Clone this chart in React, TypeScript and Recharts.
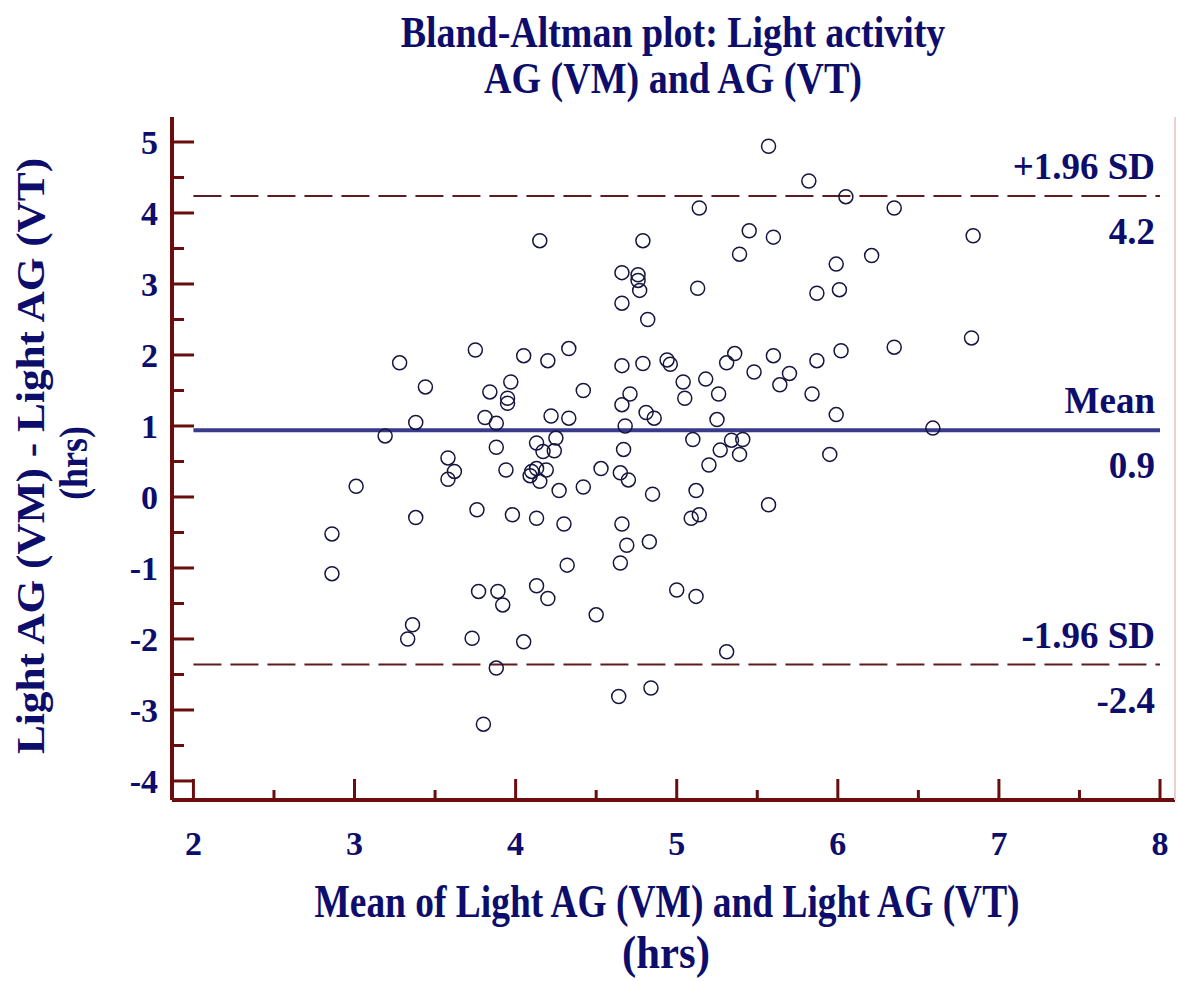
import React from 'react';
import { Customized, ReferenceLine, Scatter, ScatterChart, XAxis, YAxis } from 'recharts';

// mean of the two methods (hrs)
const meanHrs = [
  2.86, 2.86, 3.01, 3.19, 3.28, 3.33, 3.36, 3.38, 3.38, 3.44, 3.58, 3.62, 3.58, 3.73, 3.75, 3.76,
  3.77, 3.8, 3.81, 3.84, 3.88, 3.88, 3.88, 3.89, 3.92, 3.94, 3.95, 3.95, 3.97, 3.98, 4.05, 4.05,
  4.09, 4.1, 4.13, 4.13, 4.13, 4.13, 4.15, 4.15, 4.17, 4.19, 4.2, 4.2, 4.22, 4.24, 4.25, 4.27,
  4.3, 4.32, 4.33, 4.33, 4.42, 4.42, 4.5, 4.53, 4.64, 4.65, 4.65, 4.66, 4.66, 4.66, 4.66, 4.66,
  4.67, 4.68, 4.69, 4.7, 4.71, 4.76, 4.76, 4.77, 4.79, 4.79, 4.81, 4.82, 4.83, 4.84, 4.85, 4.86,
  4.94, 4.96, 5.0, 5.04, 5.05, 5.09, 5.1, 5.12, 5.12, 5.13, 5.14, 5.14, 5.18, 5.2, 5.25, 5.26,
  5.27, 5.31, 5.31, 5.34, 5.36, 5.39, 5.39, 5.41, 5.45, 5.48, 5.57, 5.57, 5.6, 5.6, 5.64, 5.7,
  5.82, 5.84, 5.87, 5.87, 5.95, 5.99, 5.99, 6.01, 6.02, 6.05, 6.21, 6.35, 6.35, 6.59, 6.83, 6.84,
];

// difference VM - VT (hrs)
const diffHrs = [
  -0.52, -1.08, 0.15, 0.86, 1.89, -2.0, -1.8, 1.05, -0.29, 1.55, 0.55, 0.36, 0.25, -1.99, 2.07, -0.18,
  -1.33, -3.2, 1.12, 1.48, 1.04, 0.7, -2.41, -1.33, -1.52, 0.38, 1.39, 1.32, 1.62, -0.25, 1.99, -2.04,
  0.3, 0.36, 0.4, 0.76, -0.3, -1.25, 3.61, 0.22, 0.64, 0.38, 1.92, -1.43, 1.14, 0.65, 0.83, 0.09,
  -0.38, -0.96, 2.09, 1.11, 1.5, 0.14, -1.66, 0.4, -2.81, 0.34, -0.93, 3.16, 2.73, 1.85, 1.3, -0.38,
  0.67, 1.0, -0.68, 0.24, 1.45, 3.13, 3.05, 2.91, 3.61, 1.88, 1.19, 2.5, -0.63, -2.69, 0.04, 1.11,
  1.93, 1.87, -1.31, 1.62, 1.39, -0.3, 0.81, 0.09, -1.4, 2.94, 4.07, -0.25, 1.66, 0.45, 1.09, 1.45,
  0.66, 1.89, -2.18, 0.8, 2.02, 3.42, 0.6, 0.81, 3.75, 1.76, 4.94, -0.11, 3.66, 1.99, 1.58, 1.74,
  4.45, 1.45, 2.87, 1.92, 0.6, 3.28, 1.16, 2.92, 2.06, 4.23, 3.4, 4.07, 2.11, 0.97, 2.24, 3.68,
];

const xTicks = [2, 2.5, 3, 3.5, 4, 4.5, 5, 5.5, 6, 6.5, 7, 7.5, 8];
const yTicks = [-4, -3.5, -3, -2.5, -2, -1.5, -1, -0.5, 0, 0.5, 1, 1.5, 2, 2.5, 3, 3.5, 4, 4.5, 5];

const meanDiff = 0.94;
const upperLoA = 4.24;
const lowerLoA = -2.36;
const lineLabels = [
  ['+1.96 SD', '4.2'],
  ['Mean', '0.9'],
  ['-1.96 SD', '-2.4'],
];

const titleLines = ['Bland-Altman plot: Light activity', 'AG (VM) and AG (VT)'];
const xTitle = ['Mean of Light AG (VM) and Light AG (VT)', '(hrs)'];
const yTitle = ['Light AG (VM) - Light AG (VT)', '(hrs)'];

const points = meanHrs.map((x, i) => ({ x, y: diffHrs[i] }));

const AXIS = '#6a0d0f';
const INK = '#0d0d6b';
const FONT = '"Liberation Serif", "Times New Roman", serif';
const X_DOMAIN: [number, number] = [1.867, 8.093];
const Y_DOMAIN: [number, number] = [-4.268, 5.352];

function YTick({ x, y, payload }: any) {
  const major = Number.isInteger(payload.value);
  return (
    <g>
      <line x1={x} x2={x + (major ? 22 : 12)} y1={y} y2={y} stroke={AXIS} strokeWidth={3} />
      {major && (
        <text x={x - 14} y={y + 12} textAnchor="end" fontFamily={FONT} fontWeight="bold" fontSize={34} fill={INK}>
          {payload.value}
        </text>
      )}
    </g>
  );
}

function XTick({ x, y, payload }: any) {
  const major = Number.isInteger(payload.value);
  return (
    <g>
      <line x1={x} x2={x} y1={y} y2={y - (major ? 21 : 10)} stroke={AXIS} strokeWidth={3} />
      {major && (
        <text x={x} y={y + 55} textAnchor="middle" fontFamily={FONT} fontWeight="bold" fontSize={34} fill={INK}>
          {payload.value}
        </text>
      )}
    </g>
  );
}

const lineLabel = (above: string, below: string) => (props: any) => {
  const { x, y, width } = props.viewBox;
  const right = x + width - 5;
  const txt = { textAnchor: 'end' as const, fontFamily: FONT, fontWeight: 'bold', fontSize: 37, fill: INK };
  return (
    <g>
      <text x={right} y={y - 17} {...txt}>{above}</text>
      <text x={right} y={y + 48} {...txt}>{below}</text>
    </g>
  );
};

// the source image is squashed sideways, so the big texts get a horizontal scale
function Squashed({ x, y, size, sx, rotate = 0, children }: any) {
  return (
    <text
      transform={`translate(${x} ${y}) rotate(${rotate}) scale(${sx} 1)`}
      textAnchor="middle"
      fontFamily={FONT}
      fontWeight="bold"
      fontSize={size}
      fill={INK}
    >
      {children}
    </text>
  );
}

function Titles() {
  return (
    <g>
      <Squashed x={673} y={47} size={44} sx={0.862}>{titleLines[0]}</Squashed>
      <Squashed x={673} y={93} size={44} sx={0.864}>{titleLines[1]}</Squashed>
      <Squashed x={667} y={917} size={46} sx={0.814}>{xTitle[0]}</Squashed>
      <Squashed x={666} y={968} size={46} sx={0.93}>{xTitle[1]}</Squashed>
      <Squashed x={44} y={456} size={39} sx={1.11} rotate={-90}>{yTitle[0]}</Squashed>
      <Squashed x={87} y={463} size={39} sx={0.92} rotate={-90}>{yTitle[1]}</Squashed>
    </g>
  );
}

const Ring = (props: any) => (
  <circle cx={props.cx} cy={props.cy} r={7} fill="none" stroke="#15153f" strokeWidth={1.5} />
);

export default function App() {
  return (
    <div style={{ position: 'absolute', left: 0, top: 0, background: '#fff' }}>
      <ScatterChart width={1177} height={981} margin={{ top: 117, right: 1, bottom: 0, left: 0 }}>
        <XAxis
          type="number"
          dataKey="x"
          domain={X_DOMAIN}
          ticks={xTicks}
          interval={0}
          height={181}
          tickSize={0}
          tickMargin={0}
          tickLine={false}
          tick={<XTick />}
          axisLine={{ stroke: AXIS, strokeWidth: 4 }}
        />
        <XAxis
          xAxisId="top"
          orientation="top"
          type="number"
          domain={X_DOMAIN}
          height={0}
          tick={false}
          tickLine={false}
          axisLine={{ stroke: AXIS, strokeWidth: 4 }}
        />
        <YAxis
          type="number"
          dataKey="y"
          domain={Y_DOMAIN}
          ticks={yTicks}
          interval={0}
          width={172}
          tickSize={0}
          tickMargin={0}
          tickLine={false}
          tick={<YTick />}
          axisLine={{ stroke: AXIS, strokeWidth: 4 }}
        />
        <YAxis
          yAxisId="right"
          orientation="right"
          type="number"
          domain={Y_DOMAIN}
          width={1}
          tick={false}
          tickLine={false}
          axisLine={{ stroke: '#ecd0d0', strokeWidth: 2 }}
        />
        <ReferenceLine
          segment={[{ x: 2, y: upperLoA }, { x: 8, y: upperLoA }]}
          stroke="#5e1c1c"
          strokeWidth={2}
          strokeDasharray="28 9"
          label={lineLabel(lineLabels[0][0], lineLabels[0][1])}
        />
        <ReferenceLine
          segment={[{ x: 2, y: lowerLoA }, { x: 8, y: lowerLoA }]}
          stroke="#5e1c1c"
          strokeWidth={2}
          strokeDasharray="28 9"
          label={lineLabel(lineLabels[2][0], lineLabels[2][1])}
        />
        <Scatter data={points} shape={Ring} isAnimationActive={false} />
        <ReferenceLine
          segment={[{ x: 2, y: meanDiff }, { x: 8, y: meanDiff }]}
          stroke="#3a3a8c"
          strokeWidth={4}
          label={lineLabel(lineLabels[1][0], lineLabels[1][1])}
        />
        <Customized component={Titles} />
      </ScatterChart>
    </div>
  );
}
